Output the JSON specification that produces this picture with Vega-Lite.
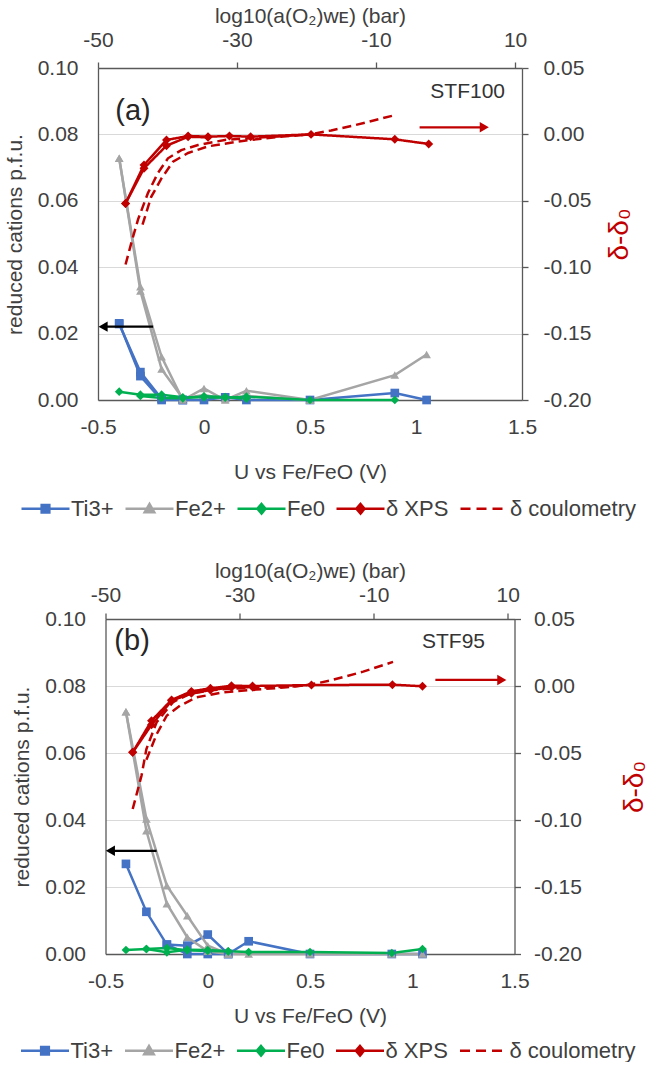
{
  "$schema": "https://vega.github.io/schema/vega-lite/v6.json",
  "background": "#ffffff",
  "padding": {"left": 4, "right": 4, "top": 5, "bottom": 0},
  "bounds": "flush",
  "center": true,
  "spacing": 219,
  "config": {
    "font": "Liberation Sans",
    "view": {"stroke": null},
    "axis": {
      "labelFont": "Liberation Sans",
      "titleFont": "Liberation Sans",
      "labelFontSize": 21,
      "titleFontSize": 21,
      "titleFontWeight": "normal",
      "labelColor": "#404040",
      "titleColor": "#404040",
      "domainColor": "#595959",
      "domainWidth": 1.3,
      "tickColor": "#595959",
      "tickWidth": 1.3,
      "gridColor": "#d9d9d9",
      "gridWidth": 1.2,
      "labelFlush": false,
      "labelOverlap": false
    }
  },
  "datasets": {
    "pts": [
      {"p":"a","s":"Ti3+","t":1,"U":-0.4,"v":0.0231},
      {"p":"a","s":"Ti3+","t":1,"U":-0.3,"v":0.0072},
      {"p":"a","s":"Ti3+","t":1,"U":-0.2,"v":0},
      {"p":"a","s":"Ti3+","t":1,"U":-0.1,"v":0},
      {"p":"a","s":"Ti3+","t":1,"U":0,"v":0},
      {"p":"a","s":"Ti3+","t":1,"U":0.1,"v":0.0008},
      {"p":"a","s":"Ti3+","t":1,"U":0.2,"v":0},
      {"p":"a","s":"Ti3+","t":1,"U":0.5,"v":0},
      {"p":"a","s":"Ti3+","t":1,"U":0.9,"v":0.0021},
      {"p":"a","s":"Ti3+","t":1,"U":1.05,"v":0},
      {"p":"a","s":"Ti3+","t":2,"U":-0.4,"v":0.0229},
      {"p":"a","s":"Ti3+","t":2,"U":-0.3,"v":0.0084},
      {"p":"a","s":"Ti3+","t":2,"U":-0.2,"v":0.0004},
      {"p":"a","s":"Ti3+","t":2,"U":-0.1,"v":0},
      {"p":"a","s":"Fe2+","t":1,"U":-0.4,"v":0.0728},
      {"p":"a","s":"Fe2+","t":1,"U":-0.3,"v":0.0341},
      {"p":"a","s":"Fe2+","t":1,"U":-0.2,"v":0.013},
      {"p":"a","s":"Fe2+","t":1,"U":-0.1,"v":0},
      {"p":"a","s":"Fe2+","t":1,"U":0,"v":0.0035},
      {"p":"a","s":"Fe2+","t":1,"U":0.1,"v":0},
      {"p":"a","s":"Fe2+","t":1,"U":0.2,"v":0.0028},
      {"p":"a","s":"Fe2+","t":1,"U":0.5,"v":0},
      {"p":"a","s":"Fe2+","t":1,"U":0.9,"v":0.0075},
      {"p":"a","s":"Fe2+","t":1,"U":1.05,"v":0.0137},
      {"p":"a","s":"Fe2+","t":2,"U":-0.4,"v":0.0728},
      {"p":"a","s":"Fe2+","t":2,"U":-0.3,"v":0.0328},
      {"p":"a","s":"Fe2+","t":2,"U":-0.2,"v":0.0093},
      {"p":"a","s":"Fe2+","t":2,"U":-0.1,"v":0.0005},
      {"p":"a","s":"Fe2+","t":2,"U":0,"v":0.0015},
      {"p":"a","s":"Fe2+","t":2,"U":0.1,"v":0.0004},
      {"p":"a","s":"Fe2+","t":2,"U":0.2,"v":0.0012},
      {"p":"a","s":"Fe2+","t":2,"U":0.5,"v":0},
      {"p":"a","s":"Fe0","t":1,"U":-0.4,"v":0.0025},
      {"p":"a","s":"Fe0","t":1,"U":-0.3,"v":0.0016},
      {"p":"a","s":"Fe0","t":1,"U":-0.2,"v":0.0016},
      {"p":"a","s":"Fe0","t":1,"U":-0.1,"v":0.0008},
      {"p":"a","s":"Fe0","t":1,"U":0,"v":0.0008},
      {"p":"a","s":"Fe0","t":1,"U":0.1,"v":0.0007},
      {"p":"a","s":"Fe0","t":1,"U":0.2,"v":0.001},
      {"p":"a","s":"Fe0","t":1,"U":0.5,"v":0},
      {"p":"a","s":"Fe0","t":1,"U":0.9,"v":0},
      {"p":"a","s":"Fe0","t":2,"U":-0.3,"v":0.0012},
      {"p":"a","s":"Fe0","t":2,"U":-0.2,"v":0.0006},
      {"p":"a","s":"Fe0","t":2,"U":-0.1,"v":0.0005},
      {"p":"a","s":"Fe0","t":2,"U":0,"v":0.0011},
      {"p":"a","s":"Fe0","t":2,"U":0.1,"v":0.0009},
      {"p":"a","s":"Fe0","t":2,"U":0.2,"v":0.0004},
      {"p":"a","s":"δ XPS","t":1,"U":-0.37,"v":-0.052},
      {"p":"a","s":"δ XPS","t":1,"U":-0.283,"v":-0.023},
      {"p":"a","s":"δ XPS","t":1,"U":-0.177,"v":-0.0042},
      {"p":"a","s":"δ XPS","t":1,"U":-0.075,"v":-0.0012},
      {"p":"a","s":"δ XPS","t":1,"U":0.019,"v":-0.0017},
      {"p":"a","s":"δ XPS","t":1,"U":0.12,"v":-0.0012},
      {"p":"a","s":"δ XPS","t":1,"U":0.22,"v":-0.0017},
      {"p":"a","s":"δ XPS","t":1,"U":0.505,"v":0},
      {"p":"a","s":"δ XPS","t":1,"U":0.9,"v":-0.0037},
      {"p":"a","s":"δ XPS","t":1,"U":1.06,"v":-0.0072},
      {"p":"a","s":"δ XPS","t":2,"U":-0.37,"v":-0.052},
      {"p":"a","s":"δ XPS","t":2,"U":-0.283,"v":-0.0255},
      {"p":"a","s":"δ XPS","t":2,"U":-0.177,"v":-0.0085},
      {"p":"a","s":"δ XPS","t":2,"U":-0.075,"v":-0.0018},
      {"p":"a","s":"δ XPS","t":2,"U":0.019,"v":-0.0022},
      {"p":"a","s":"δ coulometry","t":1,"U":-0.37,"v":-0.098},
      {"p":"a","s":"δ coulometry","t":1,"U":-0.34,"v":-0.08},
      {"p":"a","s":"δ coulometry","t":1,"U":-0.311,"v":-0.064},
      {"p":"a","s":"δ coulometry","t":1,"U":-0.264,"v":-0.044},
      {"p":"a","s":"δ coulometry","t":1,"U":-0.217,"v":-0.029},
      {"p":"a","s":"δ coulometry","t":1,"U":-0.17,"v":-0.018},
      {"p":"a","s":"δ coulometry","t":1,"U":-0.107,"v":-0.0118},
      {"p":"a","s":"δ coulometry","t":1,"U":-0.028,"v":-0.008},
      {"p":"a","s":"δ coulometry","t":1,"U":0.098,"v":-0.0042},
      {"p":"a","s":"δ coulometry","t":1,"U":0.2,"v":-0.003},
      {"p":"a","s":"δ coulometry","t":1,"U":0.35,"v":-0.0015},
      {"p":"a","s":"δ coulometry","t":1,"U":0.5,"v":0},
      {"p":"a","s":"δ coulometry","t":1,"U":0.6,"v":0.003},
      {"p":"a","s":"δ coulometry","t":1,"U":0.7,"v":0.0065},
      {"p":"a","s":"δ coulometry","t":1,"U":0.8,"v":0.0105},
      {"p":"a","s":"δ coulometry","t":1,"U":0.9,"v":0.0145},
      {"p":"a","s":"δ coulometry","t":2,"U":-0.29,"v":-0.068},
      {"p":"a","s":"δ coulometry","t":2,"U":-0.249,"v":-0.047},
      {"p":"a","s":"δ coulometry","t":2,"U":-0.2,"v":-0.033},
      {"p":"a","s":"δ coulometry","t":2,"U":-0.146,"v":-0.0205},
      {"p":"a","s":"δ coulometry","t":2,"U":-0.075,"v":-0.014},
      {"p":"a","s":"δ coulometry","t":2,"U":0.019,"v":-0.009},
      {"p":"a","s":"δ coulometry","t":2,"U":0.19,"v":-0.0047},
      {"p":"a","s":"δ coulometry","t":2,"U":0.35,"v":-0.002},
      {"p":"a","s":"δ coulometry","t":2,"U":0.5,"v":0},

      {"p":"b","s":"Ti3+","t":1,"U":-0.4,"v":0.0269},
      {"p":"b","s":"Ti3+","t":1,"U":-0.3,"v":0.0126},
      {"p":"b","s":"Ti3+","t":1,"U":-0.2,"v":0.0028},
      {"p":"b","s":"Ti3+","t":1,"U":-0.1,"v":0.0025},
      {"p":"b","s":"Ti3+","t":1,"U":0,"v":0.0058},
      {"p":"b","s":"Ti3+","t":1,"U":0.1,"v":0},
      {"p":"b","s":"Ti3+","t":1,"U":0.2,"v":0.0038},
      {"p":"b","s":"Ti3+","t":1,"U":0.5,"v":0},
      {"p":"b","s":"Ti3+","t":1,"U":0.9,"v":0},
      {"p":"b","s":"Ti3+","t":1,"U":1.05,"v":0},
      {"p":"b","s":"Ti3+","t":2,"U":-0.2,"v":0.0028},
      {"p":"b","s":"Ti3+","t":2,"U":-0.1,"v":0},
      {"p":"b","s":"Ti3+","t":2,"U":0,"v":0},
      {"p":"b","s":"Ti3+","t":2,"U":0.1,"v":0},
      {"p":"b","s":"Fe2+","t":1,"U":-0.4,"v":0.0723},
      {"p":"b","s":"Fe2+","t":1,"U":-0.3,"v":0.0403},
      {"p":"b","s":"Fe2+","t":1,"U":-0.2,"v":0.0204},
      {"p":"b","s":"Fe2+","t":1,"U":-0.1,"v":0.0114},
      {"p":"b","s":"Fe2+","t":1,"U":0,"v":0.0025},
      {"p":"b","s":"Fe2+","t":1,"U":0.1,"v":0},
      {"p":"b","s":"Fe2+","t":1,"U":0.2,"v":0},
      {"p":"b","s":"Fe2+","t":1,"U":0.5,"v":0},
      {"p":"b","s":"Fe2+","t":1,"U":0.9,"v":0},
      {"p":"b","s":"Fe2+","t":1,"U":1.05,"v":0},
      {"p":"b","s":"Fe2+","t":2,"U":-0.4,"v":0.0723},
      {"p":"b","s":"Fe2+","t":2,"U":-0.3,"v":0.0368},
      {"p":"b","s":"Fe2+","t":2,"U":-0.2,"v":0.015},
      {"p":"b","s":"Fe2+","t":2,"U":-0.1,"v":0.005},
      {"p":"b","s":"Fe2+","t":2,"U":0,"v":0.0008},
      {"p":"b","s":"Fe2+","t":2,"U":0.1,"v":0},
      {"p":"b","s":"Fe0","t":1,"U":-0.4,"v":0.0012},
      {"p":"b","s":"Fe0","t":1,"U":-0.3,"v":0.0015},
      {"p":"b","s":"Fe0","t":1,"U":-0.2,"v":0.0005},
      {"p":"b","s":"Fe0","t":1,"U":-0.1,"v":0.0013},
      {"p":"b","s":"Fe0","t":1,"U":0,"v":0.0012},
      {"p":"b","s":"Fe0","t":1,"U":0.1,"v":0.0008},
      {"p":"b","s":"Fe0","t":1,"U":0.2,"v":0.0006},
      {"p":"b","s":"Fe0","t":1,"U":0.5,"v":0.0006},
      {"p":"b","s":"Fe0","t":1,"U":0.9,"v":0.0003},
      {"p":"b","s":"Fe0","t":1,"U":1.05,"v":0.0015},
      {"p":"b","s":"Fe0","t":2,"U":-0.3,"v":0.0015},
      {"p":"b","s":"Fe0","t":2,"U":-0.2,"v":0.0018},
      {"p":"b","s":"Fe0","t":2,"U":-0.1,"v":0.0011},
      {"p":"b","s":"Fe0","t":2,"U":0,"v":0.0009},
      {"p":"b","s":"Fe0","t":2,"U":0.1,"v":0.0008},
      {"p":"b","s":"δ XPS","t":1,"U":-0.367,"v":-0.0495},
      {"p":"b","s":"δ XPS","t":1,"U":-0.275,"v":-0.0259},
      {"p":"b","s":"δ XPS","t":1,"U":-0.177,"v":-0.0104},
      {"p":"b","s":"δ XPS","t":1,"U":-0.08,"v":-0.004},
      {"p":"b","s":"δ XPS","t":1,"U":0.013,"v":-0.0017},
      {"p":"b","s":"δ XPS","t":1,"U":0.116,"v":0.0002},
      {"p":"b","s":"δ XPS","t":1,"U":0.219,"v":0},
      {"p":"b","s":"δ XPS","t":1,"U":0.507,"v":0.0007},
      {"p":"b","s":"δ XPS","t":1,"U":0.903,"v":0.001},
      {"p":"b","s":"δ XPS","t":1,"U":1.05,"v":-0.0002},
      {"p":"b","s":"δ XPS","t":2,"U":-0.367,"v":-0.0495},
      {"p":"b","s":"δ XPS","t":2,"U":-0.275,"v":-0.029},
      {"p":"b","s":"δ XPS","t":2,"U":-0.177,"v":-0.011},
      {"p":"b","s":"δ XPS","t":2,"U":-0.08,"v":-0.0055},
      {"p":"b","s":"δ XPS","t":2,"U":0.013,"v":-0.003},
      {"p":"b","s":"δ XPS","t":2,"U":0.116,"v":-0.001},
      {"p":"b","s":"δ XPS","t":2,"U":0.219,"v":-0.0008},
      {"p":"b","s":"δ coulometry","t":1,"U":-0.367,"v":-0.0918},
      {"p":"b","s":"δ coulometry","t":1,"U":-0.324,"v":-0.067},
      {"p":"b","s":"δ coulometry","t":1,"U":-0.3,"v":-0.047},
      {"p":"b","s":"δ coulometry","t":1,"U":-0.25,"v":-0.027},
      {"p":"b","s":"δ coulometry","t":1,"U":-0.17,"v":-0.012},
      {"p":"b","s":"δ coulometry","t":1,"U":-0.09,"v":-0.006},
      {"p":"b","s":"δ coulometry","t":1,"U":0,"v":-0.0035},
      {"p":"b","s":"δ coulometry","t":1,"U":0.1,"v":-0.002},
      {"p":"b","s":"δ coulometry","t":1,"U":0.2,"v":-0.0015},
      {"p":"b","s":"δ coulometry","t":1,"U":0.4,"v":-0.0005},
      {"p":"b","s":"δ coulometry","t":1,"U":0.5,"v":0.001},
      {"p":"b","s":"δ coulometry","t":1,"U":0.597,"v":0.004},
      {"p":"b","s":"δ coulometry","t":1,"U":0.76,"v":0.0107},
      {"p":"b","s":"δ coulometry","t":1,"U":0.906,"v":0.018},
      {"p":"b","s":"δ coulometry","t":2,"U":-0.3,"v":-0.055},
      {"p":"b","s":"δ coulometry","t":2,"U":-0.25,"v":-0.036},
      {"p":"b","s":"δ coulometry","t":2,"U":-0.2,"v":-0.022},
      {"p":"b","s":"δ coulometry","t":2,"U":-0.136,"v":-0.0147},
      {"p":"b","s":"δ coulometry","t":2,"U":-0.055,"v":-0.0085},
      {"p":"b","s":"δ coulometry","t":2,"U":0.075,"v":-0.0047},
      {"p":"b","s":"δ coulometry","t":2,"U":0.238,"v":-0.0027},
      {"p":"b","s":"δ coulometry","t":2,"U":0.4,"v":-0.0008},
      {"p":"b","s":"δ coulometry","t":2,"U":0.5,"v":0.001}
    ],
    "notes": [
      {"p":"a","kind":"arrow","side":"L","U":-0.24,"U2":-0.47,"v":0.0221,"head":-0.476},
      {"p":"a","kind":"arrow","side":"R","U":1.017,"U2":1.31,"v":0.0053,"head":1.322},
      {"p":"b","kind":"arrow","side":"L","U":-0.25,"U2":-0.47,"v":0.0308,"head":-0.476},
      {"p":"b","kind":"arrow","side":"R","U":1.113,"U2":1.43,"v":0.0045,"head":1.438},
      {"p":"a","kind":"tag","txt":"(a)","U":-0.335,"v":0.0869},
      {"p":"a","kind":"name","txt":"STF100","U":1.42,"v":0.0928},
      {"p":"b","kind":"tag","txt":"(b)","U":-0.37,"v":0.0933},
      {"p":"b","kind":"name","txt":"STF95","U":1.356,"v":0.093}
    ],
    "topax": [{"g": -50}, {"g": 11}]
  },
  "vconcat": [
    {
      "width": 424,
      "height": 332,
      "layer": [
        {
          "layer": [
            {
              "data": {"name": "pts"},
              "transform": [{"filter": "datum.p === 'a' && indexof(['Ti3+','Fe2+','Fe0'], datum.s) >= 0"}],
              "mark": {"type": "line", "strokeWidth": 2.5},
              "encoding": {
                "x": {"field": "U", "type": "quantitative", "scale": {"domain": [-0.5, 1.5], "nice": false, "zero": false},
                  "axis": {"orient": "bottom", "values": [-0.5, 0, 0.5, 1, 1.5], "labelExpr": "'' + datum.value", "ticks": false, "tickSize": 0, "labelPadding": 16, "grid": false, "title": "U vs Fe/FeO (V)", "titlePadding": 24}},
                "y": {"field": "v", "type": "quantitative", "scale": {"domain": [0, 0.1], "nice": false, "zero": false},
                  "axis": {"orient": "left", "values": [0, 0.02, 0.04, 0.06, 0.08, 0.1], "format": ".2f", "ticks": false, "tickSize": 0, "labelPadding": 20, "grid": true, "title": "reduced cations p.f.u.", "titlePadding": 12}},
                "color": {"field": "s", "type": "nominal",
                  "scale": {"domain": ["Ti3+", "Fe2+", "Fe0", "δ XPS", "δ coulometry"], "range": ["#4472c4", "#a5a5a5", "#00b050", "#c00000", "#c00000"]},
                  "legend": {
                    "orient": "none", "legendX": -78, "legendY": 415, "direction": "horizontal", "title": null,
                    "labelFont": "Liberation Sans", "labelFontSize": 22, "labelColor": "#404040", "labelLimit": 300,
                    "symbolSize": 2304, "symbolStrokeWidth": 2.5, "symbolType": "M-1,0H1", "labelOffset": 0, "columnPadding": 6,
                    "encode": {"symbols": {"update": {
                      "shape": {"signal": "datum.value === 'Ti3+' ? 'M-1,0H1M-0.16,-0.16H0.16V0.16H-0.16Z' : datum.value === 'Fe2+' ? 'M-1,0H1M0,-0.2L0.2,0.15H-0.2Z' : datum.value === 'δ coulometry' ? 'M-1,0H1' : 'M-1,0H1M0,-0.2L0.17,0L0,0.2L-0.17,0Z'"},
                      "fill": {"signal": "datum.value === 'Ti3+' ? '#4472c4' : datum.value === 'Fe2+' ? '#a5a5a5' : datum.value === 'Fe0' ? '#00b050' : '#c00000'"},
                      "strokeDash": {"signal": "datum.value === 'δ coulometry' ? [10, 6] : [1, 0]"}
                    }}}
                  }},
                "detail": {"field": "t"}
              }
            },
            {
              "data": {"name": "pts"},
              "transform": [{"filter": "datum.p === 'a' && indexof(['Ti3+','Fe2+','Fe0'], datum.s) >= 0"}],
              "mark": {"type": "point", "filled": true, "size": 75, "opacity": 1},
              "encoding": {
                "x": {"field": "U", "type": "quantitative", "scale": {"domain": [-0.5, 1.5], "nice": false, "zero": false}},
                "y": {"field": "v", "type": "quantitative", "scale": {"domain": [0, 0.1], "nice": false, "zero": false}},
                "color": {"field": "s", "type": "nominal", "scale": {"domain": ["Ti3+", "Fe2+", "Fe0", "δ XPS", "δ coulometry"], "range": ["#4472c4", "#a5a5a5", "#00b050", "#c00000", "#c00000"]}, "legend": null},
                "shape": {"field": "s", "type": "nominal", "scale": {"domain": ["Ti3+", "Fe2+", "Fe0", "δ XPS"], "range": ["square", "triangle-up", "diamond", "diamond"]}, "legend": null}
              }
            },
            {
              "data": {"name": "notes"},
              "transform": [{"filter": "datum.p === 'a' && datum.kind === 'arrow' && datum.side === 'L'"}],
              "mark": {"type": "rule", "color": "#000000", "strokeWidth": 2.2},
              "encoding": {
                "x": {"field": "U", "type": "quantitative", "scale": {"domain": [-0.5, 1.5], "nice": false, "zero": false}},
                "x2": {"field": "U2"},
                "y": {"field": "v", "type": "quantitative", "scale": {"domain": [0, 0.1], "nice": false, "zero": false}}
              }
            },
            {
              "data": {"name": "notes"},
              "transform": [{"filter": "datum.p === 'a' && datum.kind === 'arrow' && datum.side === 'L'"}],
              "mark": {"type": "point", "shape": "triangle-left", "filled": true, "color": "#000000", "size": 110, "opacity": 1},
              "encoding": {
                "x": {"field": "head", "type": "quantitative", "scale": {"domain": [-0.5, 1.5], "nice": false, "zero": false}},
                "y": {"field": "v", "type": "quantitative", "scale": {"domain": [0, 0.1], "nice": false, "zero": false}}
              }
            },
            {
              "data": {"name": "notes"},
              "transform": [{"filter": "datum.p === 'a' && datum.kind === 'tag'"}],
              "mark": {"type": "text", "fontSize": 29, "color": "#262626", "align": "center", "baseline": "middle"},
              "encoding": {
                "x": {"field": "U", "type": "quantitative", "scale": {"domain": [-0.5, 1.5], "nice": false, "zero": false}},
                "y": {"field": "v", "type": "quantitative", "scale": {"domain": [0, 0.1], "nice": false, "zero": false}},
                "text": {"field": "txt"}
              }
            },
            {
              "data": {"name": "notes"},
              "transform": [{"filter": "datum.p === 'a' && datum.kind === 'name'"}],
              "mark": {"type": "text", "fontSize": 21, "color": "#333333", "align": "right", "baseline": "middle"},
              "encoding": {
                "x": {"field": "U", "type": "quantitative", "scale": {"domain": [-0.5, 1.5], "nice": false, "zero": false}},
                "y": {"field": "v", "type": "quantitative", "scale": {"domain": [0, 0.1], "nice": false, "zero": false}},
                "text": {"field": "txt"}
              }
            }
          ]
        },
        {
          "layer": [
            {
              "data": {"name": "pts"},
              "transform": [{"filter": "datum.p === 'a' && indexof(['δ XPS','δ coulometry'], datum.s) >= 0"}],
              "mark": {"type": "line", "strokeWidth": 2.5},
              "encoding": {
                "x": {"field": "U", "type": "quantitative", "scale": {"domain": [-0.5, 1.5], "nice": false, "zero": false}, "axis": null},
                "y": {"field": "v", "type": "quantitative", "scale": {"domain": [-0.2, 0.05], "nice": false, "zero": false},
                  "axis": {"orient": "right", "values": [-0.2, -0.15, -0.1, -0.05, 0, 0.05], "labelExpr": "replace(format(datum.value, '.2f'), '\u2212', '-')", "ticks": true, "tickSize": 6, "labelPadding": 15, "grid": false, "title": "δ-δ₀", "titleColor": "#c00000", "titleFontSize": 28, "titleAngle": 270, "titleBaseline": "top", "titlePadding": 15}},
                "color": {"field": "s", "type": "nominal", "scale": {"domain": ["Ti3+", "Fe2+", "Fe0", "δ XPS", "δ coulometry"], "range": ["#4472c4", "#a5a5a5", "#00b050", "#c00000", "#c00000"]}, "legend": null},
                "strokeDash": {"field": "s", "type": "nominal", "scale": {"domain": ["δ XPS", "δ coulometry"], "range": [[1, 0], [9, 5]]}, "legend": null},
                "detail": {"field": "t"}
              }
            },
            {
              "data": {"name": "pts"},
              "transform": [{"filter": "datum.p === 'a' && datum.s === 'δ XPS'"}],
              "mark": {"type": "point", "filled": true, "size": 80, "opacity": 1},
              "encoding": {
                "x": {"field": "U", "type": "quantitative", "scale": {"domain": [-0.5, 1.5], "nice": false, "zero": false}},
                "y": {"field": "v", "type": "quantitative", "scale": {"domain": [-0.2, 0.05], "nice": false, "zero": false}},
                "color": {"field": "s", "type": "nominal", "scale": {"domain": ["Ti3+", "Fe2+", "Fe0", "δ XPS", "δ coulometry"], "range": ["#4472c4", "#a5a5a5", "#00b050", "#c00000", "#c00000"]}, "legend": null},
                "shape": {"field": "s", "type": "nominal", "scale": {"domain": ["Ti3+", "Fe2+", "Fe0", "δ XPS"], "range": ["square", "triangle-up", "diamond", "diamond"]}, "legend": null}
              }
            },
            {
              "data": {"name": "notes"},
              "transform": [{"filter": "datum.p === 'a' && datum.kind === 'arrow' && datum.side === 'R'"}],
              "mark": {"type": "rule", "color": "#c00000", "strokeWidth": 2.2},
              "encoding": {
                "x": {"field": "U", "type": "quantitative", "scale": {"domain": [-0.5, 1.5], "nice": false, "zero": false}},
                "x2": {"field": "U2"},
                "y": {"field": "v", "type": "quantitative", "scale": {"domain": [-0.2, 0.05], "nice": false, "zero": false}}
              }
            },
            {
              "data": {"name": "notes"},
              "transform": [{"filter": "datum.p === 'a' && datum.kind === 'arrow' && datum.side === 'R'"}],
              "mark": {"type": "point", "shape": "triangle-right", "filled": true, "color": "#c00000", "size": 110, "opacity": 1},
              "encoding": {
                "x": {"field": "head", "type": "quantitative", "scale": {"domain": [-0.5, 1.5], "nice": false, "zero": false}},
                "y": {"field": "v", "type": "quantitative", "scale": {"domain": [-0.2, 0.05], "nice": false, "zero": false}}
              }
            }
          ]
        },
        {
          "data": {"name": "topax"},
          "mark": {"type": "point", "opacity": 0},
          "encoding": {
            "x": {"field": "g", "type": "quantitative", "scale": {"domain": [-50, 11], "nice": false, "zero": false},
              "axis": {"orient": "top", "values": [-50, -30, -10, 10], "labelExpr": "'' + datum.value", "ticks": true, "tickSize": 6, "labelPadding": 12, "grid": false, "title": "log10(a(O₂)ᴡᴇ) (bar)", "titlePadding": 3}}
          }
        }
      ],
      "resolve": {"scale": {"x": "independent", "y": "independent"}}
    },
    {
      "width": 409,
      "height": 335,
      "layer": [
        {
          "layer": [
            {
              "data": {"name": "pts"},
              "transform": [{"filter": "datum.p === 'b' && indexof(['Ti3+','Fe2+','Fe0'], datum.s) >= 0"}],
              "mark": {"type": "line", "strokeWidth": 2.5},
              "encoding": {
                "x": {"field": "U", "type": "quantitative", "scale": {"domain": [-0.5, 1.5], "nice": false, "zero": false},
                  "axis": {"orient": "bottom", "values": [-0.5, 0, 0.5, 1, 1.5], "labelExpr": "'' + datum.value", "ticks": false, "tickSize": 0, "labelPadding": 16, "grid": false, "title": "U vs Fe/FeO (V)", "titlePadding": 14}},
                "y": {"field": "v", "type": "quantitative", "scale": {"domain": [0, 0.1], "nice": false, "zero": false},
                  "axis": {"orient": "left", "values": [0, 0.02, 0.04, 0.06, 0.08, 0.1], "format": ".2f", "ticks": false, "tickSize": 0, "labelPadding": 20, "grid": true, "title": "reduced cations p.f.u.", "titlePadding": 12}},
                "color": {"field": "s", "type": "nominal",
                  "scale": {"domain": ["Ti3+", "Fe2+", "Fe0", "δ XPS", "δ coulometry"], "range": ["#4472c4", "#a5a5a5", "#00b050", "#c00000", "#c00000"]},
                  "legend": {
                    "orient": "none", "legendX": -86, "legendY": 406, "direction": "horizontal", "title": null,
                    "labelFont": "Liberation Sans", "labelFontSize": 22, "labelColor": "#404040", "labelLimit": 300,
                    "symbolSize": 2304, "symbolStrokeWidth": 2.5, "symbolType": "M-1,0H1", "labelOffset": 0, "columnPadding": 6,
                    "encode": {"symbols": {"update": {
                      "shape": {"signal": "datum.value === 'Ti3+' ? 'M-1,0H1M-0.16,-0.16H0.16V0.16H-0.16Z' : datum.value === 'Fe2+' ? 'M-1,0H1M0,-0.2L0.2,0.15H-0.2Z' : datum.value === 'δ coulometry' ? 'M-1,0H1' : 'M-1,0H1M0,-0.2L0.17,0L0,0.2L-0.17,0Z'"},
                      "fill": {"signal": "datum.value === 'Ti3+' ? '#4472c4' : datum.value === 'Fe2+' ? '#a5a5a5' : datum.value === 'Fe0' ? '#00b050' : '#c00000'"},
                      "strokeDash": {"signal": "datum.value === 'δ coulometry' ? [10, 6] : [1, 0]"}
                    }}}
                  }},
                "detail": {"field": "t"}
              }
            },
            {
              "data": {"name": "pts"},
              "transform": [{"filter": "datum.p === 'b' && indexof(['Ti3+','Fe2+','Fe0'], datum.s) >= 0"}],
              "mark": {"type": "point", "filled": true, "size": 75, "opacity": 1},
              "encoding": {
                "x": {"field": "U", "type": "quantitative", "scale": {"domain": [-0.5, 1.5], "nice": false, "zero": false}},
                "y": {"field": "v", "type": "quantitative", "scale": {"domain": [0, 0.1], "nice": false, "zero": false}},
                "color": {"field": "s", "type": "nominal", "scale": {"domain": ["Ti3+", "Fe2+", "Fe0", "δ XPS", "δ coulometry"], "range": ["#4472c4", "#a5a5a5", "#00b050", "#c00000", "#c00000"]}, "legend": null},
                "shape": {"field": "s", "type": "nominal", "scale": {"domain": ["Ti3+", "Fe2+", "Fe0", "δ XPS"], "range": ["square", "triangle-up", "diamond", "diamond"]}, "legend": null}
              }
            },
            {
              "data": {"name": "notes"},
              "transform": [{"filter": "datum.p === 'b' && datum.kind === 'arrow' && datum.side === 'L'"}],
              "mark": {"type": "rule", "color": "#000000", "strokeWidth": 2.2},
              "encoding": {
                "x": {"field": "U", "type": "quantitative", "scale": {"domain": [-0.5, 1.5], "nice": false, "zero": false}},
                "x2": {"field": "U2"},
                "y": {"field": "v", "type": "quantitative", "scale": {"domain": [0, 0.1], "nice": false, "zero": false}}
              }
            },
            {
              "data": {"name": "notes"},
              "transform": [{"filter": "datum.p === 'b' && datum.kind === 'arrow' && datum.side === 'L'"}],
              "mark": {"type": "point", "shape": "triangle-left", "filled": true, "color": "#000000", "size": 110, "opacity": 1},
              "encoding": {
                "x": {"field": "head", "type": "quantitative", "scale": {"domain": [-0.5, 1.5], "nice": false, "zero": false}},
                "y": {"field": "v", "type": "quantitative", "scale": {"domain": [0, 0.1], "nice": false, "zero": false}}
              }
            },
            {
              "data": {"name": "notes"},
              "transform": [{"filter": "datum.p === 'b' && datum.kind === 'tag'"}],
              "mark": {"type": "text", "fontSize": 29, "color": "#262626", "align": "center", "baseline": "middle"},
              "encoding": {
                "x": {"field": "U", "type": "quantitative", "scale": {"domain": [-0.5, 1.5], "nice": false, "zero": false}},
                "y": {"field": "v", "type": "quantitative", "scale": {"domain": [0, 0.1], "nice": false, "zero": false}},
                "text": {"field": "txt"}
              }
            },
            {
              "data": {"name": "notes"},
              "transform": [{"filter": "datum.p === 'b' && datum.kind === 'name'"}],
              "mark": {"type": "text", "fontSize": 21, "color": "#333333", "align": "right", "baseline": "middle"},
              "encoding": {
                "x": {"field": "U", "type": "quantitative", "scale": {"domain": [-0.5, 1.5], "nice": false, "zero": false}},
                "y": {"field": "v", "type": "quantitative", "scale": {"domain": [0, 0.1], "nice": false, "zero": false}},
                "text": {"field": "txt"}
              }
            }
          ]
        },
        {
          "layer": [
            {
              "data": {"name": "pts"},
              "transform": [{"filter": "datum.p === 'b' && indexof(['δ XPS','δ coulometry'], datum.s) >= 0"}],
              "mark": {"type": "line", "strokeWidth": 2.5},
              "encoding": {
                "x": {"field": "U", "type": "quantitative", "scale": {"domain": [-0.5, 1.5], "nice": false, "zero": false}, "axis": null},
                "y": {"field": "v", "type": "quantitative", "scale": {"domain": [-0.2, 0.05], "nice": false, "zero": false},
                  "axis": {"orient": "right", "values": [-0.2, -0.15, -0.1, -0.05, 0, 0.05], "labelExpr": "replace(format(datum.value, '.2f'), '\u2212', '-')", "ticks": true, "tickSize": 6, "labelPadding": 13, "grid": false, "title": "δ-δ₀", "titleColor": "#c00000", "titleFontSize": 28, "titleAngle": 270, "titleBaseline": "top", "titlePadding": 39}},
                "color": {"field": "s", "type": "nominal", "scale": {"domain": ["Ti3+", "Fe2+", "Fe0", "δ XPS", "δ coulometry"], "range": ["#4472c4", "#a5a5a5", "#00b050", "#c00000", "#c00000"]}, "legend": null},
                "strokeDash": {"field": "s", "type": "nominal", "scale": {"domain": ["δ XPS", "δ coulometry"], "range": [[1, 0], [9, 5]]}, "legend": null},
                "detail": {"field": "t"}
              }
            },
            {
              "data": {"name": "pts"},
              "transform": [{"filter": "datum.p === 'b' && datum.s === 'δ XPS'"}],
              "mark": {"type": "point", "filled": true, "size": 80, "opacity": 1},
              "encoding": {
                "x": {"field": "U", "type": "quantitative", "scale": {"domain": [-0.5, 1.5], "nice": false, "zero": false}},
                "y": {"field": "v", "type": "quantitative", "scale": {"domain": [-0.2, 0.05], "nice": false, "zero": false}},
                "color": {"field": "s", "type": "nominal", "scale": {"domain": ["Ti3+", "Fe2+", "Fe0", "δ XPS", "δ coulometry"], "range": ["#4472c4", "#a5a5a5", "#00b050", "#c00000", "#c00000"]}, "legend": null},
                "shape": {"field": "s", "type": "nominal", "scale": {"domain": ["Ti3+", "Fe2+", "Fe0", "δ XPS"], "range": ["square", "triangle-up", "diamond", "diamond"]}, "legend": null}
              }
            },
            {
              "data": {"name": "notes"},
              "transform": [{"filter": "datum.p === 'b' && datum.kind === 'arrow' && datum.side === 'R'"}],
              "mark": {"type": "rule", "color": "#c00000", "strokeWidth": 2.2},
              "encoding": {
                "x": {"field": "U", "type": "quantitative", "scale": {"domain": [-0.5, 1.5], "nice": false, "zero": false}},
                "x2": {"field": "U2"},
                "y": {"field": "v", "type": "quantitative", "scale": {"domain": [-0.2, 0.05], "nice": false, "zero": false}}
              }
            },
            {
              "data": {"name": "notes"},
              "transform": [{"filter": "datum.p === 'b' && datum.kind === 'arrow' && datum.side === 'R'"}],
              "mark": {"type": "point", "shape": "triangle-right", "filled": true, "color": "#c00000", "size": 110, "opacity": 1},
              "encoding": {
                "x": {"field": "head", "type": "quantitative", "scale": {"domain": [-0.5, 1.5], "nice": false, "zero": false}},
                "y": {"field": "v", "type": "quantitative", "scale": {"domain": [-0.2, 0.05], "nice": false, "zero": false}}
              }
            }
          ]
        },
        {
          "data": {"name": "topax"},
          "mark": {"type": "point", "opacity": 0},
          "encoding": {
            "x": {"field": "g", "type": "quantitative", "scale": {"domain": [-50, 11], "nice": false, "zero": false},
              "axis": {"orient": "top", "values": [-50, -30, -10, 10], "labelExpr": "'' + datum.value", "ticks": true, "tickSize": 6, "labelPadding": 8, "grid": false, "title": "log10(a(O₂)ᴡᴇ) (bar)", "titlePadding": 3}}
          }
        }
      ],
      "resolve": {"scale": {"x": "independent", "y": "independent"}}
    }
  ],
  "resolve": {
    "scale": {"color": "independent", "shape": "independent", "strokeDash": "independent"},
    "legend": {"color": "independent"}
  }
}
